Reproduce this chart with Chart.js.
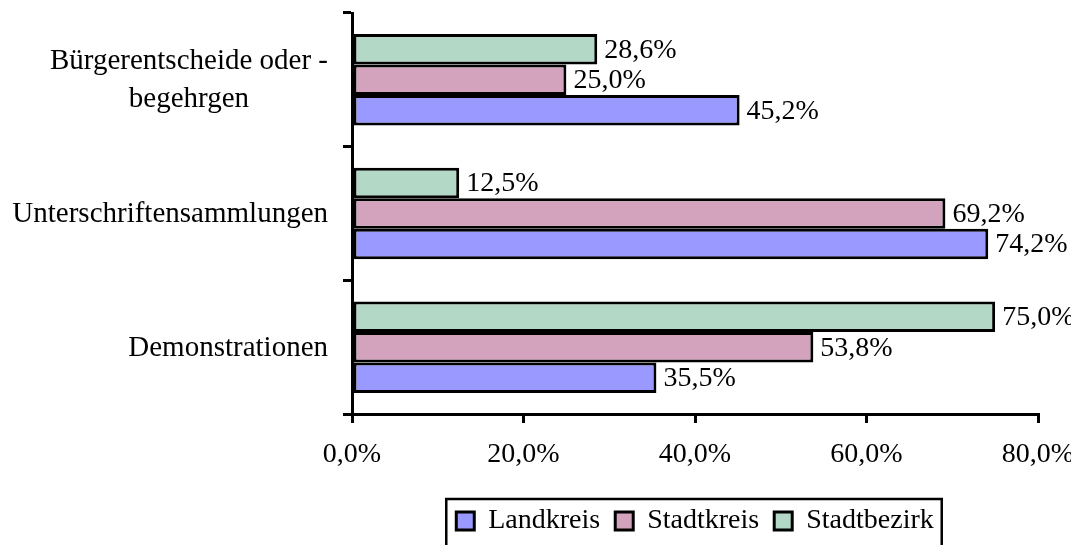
<!DOCTYPE html>
<html>
<head>
<meta charset="utf-8">
<script src="https://cdn.jsdelivr.net/npm/chart.js"></script>
<style>
  html, body { margin: 0; padding: 0; background: #fff; }
  #wrap { width: 1071px; height: 545px; }
</style>
</head>
<body>
<div id="wrap"><canvas id="chart" width="1071" height="545"></canvas></div>
<script>
// categories listed bottom-up (the y axis is reversed, like the original)
const categories = [
  ["Demonstrationen"],
  ["Unterschriftensammlungen"],
  ["Bürgerentscheide oder -", "begehrgen"]
];
const seriesNames = ["Landkreis", "Stadtkreis", "Stadtbezirk"];
const landkreis = [35.5, 74.2, 45.2];
const stadtkreis = [53.8, 69.2, 25.0];
const stadtbezirk = [75.0, 12.5, 28.6];
const xTicks = [0, 20, 40, 60, 80];

const colors = ["#9999FF", "#D3A3BE", "#B3D8C6"];
const FONT = "'Liberation Serif', 'Times New Roman', serif";
const FS = 28;
const fmt = (v) => v.toFixed(1).replace(".", ",") + "%";

// Werte rechts neben die Balken schreiben
const barLabels = {
  id: "barLabels",
  afterDatasetsDraw(chart) {
    const ctx = chart.ctx;
    ctx.save();
    ctx.font = FS + "px " + FONT;
    ctx.fillStyle = "#000";
    ctx.textAlign = "left";
    ctx.textBaseline = "middle";
    chart.data.datasets.forEach((ds, i) => {
      chart.getDatasetMeta(i).data.forEach((bar, j) => {
        ctx.fillText(fmt(ds.data[j]), bar.x + 7, bar.y + 1);
      });
    });
    ctx.restore();
  }
};

// Kategorienamen: Block rechtsbuendig, Zeilen zentriert
const catLabels = {
  id: "catLabels",
  afterDraw(chart) {
    const ctx = chart.ctx;
    const y = chart.scales.y;
    ctx.save();
    ctx.font = "29px " + FONT;
    ctx.fillStyle = "#000";
    ctx.textAlign = "center";
    ctx.textBaseline = "middle";
    const right = y.right - 24;
    const lh = 38;
    categories.forEach((lines, i) => {
      const cy = y.getPixelForValue(i);
      const w = Math.max(...lines.map((l) => ctx.measureText(l).width));
      const cx = right - w / 2;
      lines.forEach((l, k) => {
        ctx.fillText(l, cx, cy + (k - (lines.length - 1) / 2) * lh + 1);
      });
    });
    ctx.restore();
  }
};

// Rahmen um die Legende (unten abgeschnitten wie im Original)
const legendFrame = {
  id: "legendFrame",
  afterDraw(chart) {
    const boxes = chart.legend.legendHitBoxes;
    if (!boxes || !boxes.length) return;
    const first = boxes[0];
    const last = boxes[boxes.length - 1];
    const ctx = chart.ctx;
    ctx.save();
    ctx.strokeStyle = "#000";
    ctx.lineWidth = 2.5;
    ctx.strokeRect(first.left - 10, first.top - 8, last.left + last.width - first.left + 18, 70);
    ctx.restore();
  }
};

// Datensaetze umgekehrt, damit Landkreis unten in jeder Gruppe liegt
const seriesData = [landkreis, stadtkreis, stadtbezirk];
const datasets = seriesNames.map((name, i) => ({
  label: name,
  data: seriesData[i],
  backgroundColor: colors[i],
  borderColor: "#000",
  borderWidth: 3,
  borderSkipped: false,
  categoryPercentage: 0.685,
  barPercentage: 1.0
})).reverse();

new Chart(document.getElementById("chart"), {
  type: "bar",
  data: { labels: categories, datasets: datasets },
  options: {
    indexAxis: "y",
    responsive: false,
    animation: false,
    layout: { padding: { left: 0, right: 33, top: 13, bottom: 0 } },
    scales: {
      x: {
        min: 0,
        max: 80,
        afterBuildTicks: (s) => { s.ticks = xTicks.map((v) => ({ value: v })); },
        afterFit: (s) => { s.height = 78; s.paddingLeft = 0; s.paddingRight = 0; },
        border: { color: "#000", width: 3 },
        grid: { drawOnChartArea: false, drawTicks: true, tickLength: 9, color: "#000", lineWidth: 3 },
        ticks: {
          color: "#000",
          padding: 15,
          maxRotation: 0,
          font: { family: FONT, size: FS },
          callback: (v) => fmt(v)
        }
      },
      y: {
        reverse: true,
        afterFit: (s) => { s.width = 352; },
        border: { color: "#000", width: 3 },
        grid: { drawOnChartArea: false, drawTicks: true, tickLength: 9, color: "#000", lineWidth: 3, offset: true },
        ticks: { display: false }
      }
    },
    plugins: {
      legend: {
        position: "bottom",
        fullSize: false,
        reverse: true,
        labels: {
          color: "#000",
          font: { family: FONT, size: FS },
          boxWidth: 18,
          boxHeight: 18,
          padding: 15,
          generateLabels: (chart) =>
            Chart.defaults.plugins.legend.labels.generateLabels(chart).map((it) => ({ ...it, lineWidth: 3 }))
        }
      },
      tooltip: { enabled: false }
    }
  },
  plugins: [barLabels, catLabels, legendFrame]
});
</script>
</body>
</html>
